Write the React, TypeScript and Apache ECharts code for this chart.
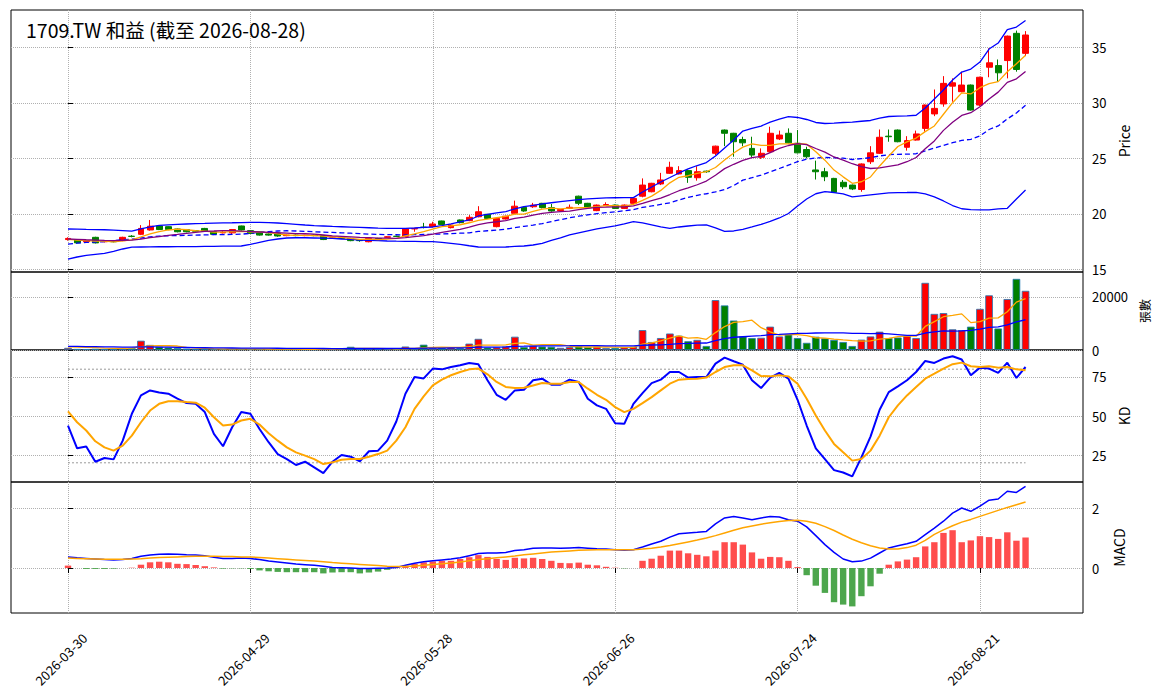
import React, { useEffect, useRef } from "react";
import * as echarts from "echarts";

const DATES = [
  "2026-03-30","2026-03-31","2026-04-01","2026-04-02","2026-04-07","2026-04-08","2026-04-09","2026-04-10","2026-04-13","2026-04-14",
  "2026-04-15","2026-04-16","2026-04-17","2026-04-20","2026-04-21","2026-04-22","2026-04-23","2026-04-24","2026-04-27","2026-04-28",
  "2026-04-29","2026-04-30","2026-05-04","2026-05-05","2026-05-06","2026-05-07","2026-05-08","2026-05-11","2026-05-12","2026-05-13",
  "2026-05-14","2026-05-15","2026-05-18","2026-05-19","2026-05-20","2026-05-21","2026-05-22","2026-05-25","2026-05-26","2026-05-27",
  "2026-05-28","2026-05-29","2026-06-01","2026-06-02","2026-06-03","2026-06-04","2026-06-05","2026-06-08","2026-06-09","2026-06-10",
  "2026-06-11","2026-06-12","2026-06-15","2026-06-16","2026-06-17","2026-06-18","2026-06-22","2026-06-23","2026-06-24","2026-06-25",
  "2026-06-26","2026-06-29","2026-06-30","2026-07-01","2026-07-02","2026-07-03","2026-07-06","2026-07-07","2026-07-08","2026-07-09",
  "2026-07-10","2026-07-13","2026-07-14","2026-07-15","2026-07-16","2026-07-17","2026-07-20","2026-07-21","2026-07-22","2026-07-23",
  "2026-07-24","2026-07-27","2026-07-28","2026-07-29","2026-07-30","2026-07-31","2026-08-03","2026-08-04","2026-08-05","2026-08-06",
  "2026-08-07","2026-08-10","2026-08-11","2026-08-12","2026-08-13","2026-08-14","2026-08-17","2026-08-18","2026-08-19","2026-08-20",
  "2026-08-21","2026-08-24","2026-08-25","2026-08-26","2026-08-27","2026-08-28",
];

const OPEN = [
  17.7,17.66,17.5,17.9,17.5,17.55,17.6,18.0,18.17,18.56,
  18.92,18.86,18.65,18.6,18.5,18.7,18.4,18.3,18.3,18.92,
  18.5,18.4,18.2,18.26,18.05,18.1,18.05,18.1,18.05,17.8,
  17.85,17.8,17.62,17.5,17.8,17.9,18.0,18.0,18.65,18.82,
  18.86,19.37,18.77,19.46,19.4,19.75,19.97,18.86,19.55,20.06,
  20.6,20.65,20.96,20.57,20.3,20.5,21.6,20.96,20.3,20.75,
  20.8,20.5,20.96,21.6,22.0,22.7,23.66,23.6,23.9,23.26,
  23.85,25.46,27.55,27.26,26.7,25.9,25.1,25.6,26.75,27.26,
  26.36,25.8,23.96,23.8,23.2,22.85,22.6,22.2,24.7,25.46,
  27.0,27.55,26.0,26.65,27.7,29.0,29.9,31.5,31.0,31.6,
  29.8,33.2,33.35,33.8,36.25,34.45,
];
const CLOSE = [
  17.8,17.4,17.6,17.4,17.55,17.5,17.9,17.98,18.7,18.9,
  18.6,18.6,18.4,18.4,18.45,18.47,18.17,18.35,18.6,18.56,
  18.25,18.1,18.1,18.02,18.1,18.05,18.08,18.05,17.7,17.85,
  17.8,17.6,17.6,17.8,17.7,17.95,17.98,18.65,18.7,18.78,
  19.1,19.05,19.0,19.22,19.7,20.2,19.6,19.6,19.8,20.7,
  20.27,20.8,20.57,20.27,20.4,20.6,20.96,20.57,20.8,20.85,
  20.5,20.8,21.4,22.6,22.76,23.06,24.2,23.9,23.3,23.8,
  23.8,26.1,27.26,26.5,26.4,25.3,25.46,27.26,27.1,26.4,
  25.5,25.15,23.8,23.35,21.95,22.45,22.25,24.5,25.5,26.9,
  26.95,26.5,26.6,27.2,29.8,29.5,31.75,31.8,31.6,29.35,
  32.3,33.6,32.7,36.0,33.0,36.1,
];
const LOW = [
  17.6,17.35,17.45,17.35,17.45,17.45,17.55,17.9,18.1,18.5,
  18.55,18.55,18.35,18.35,18.4,18.4,18.1,18.25,18.2,18.5,
  18.2,18.05,18.05,17.95,18.0,18.0,18.0,18.0,17.65,17.75,
  17.75,17.55,17.5,17.45,17.65,17.85,17.95,17.95,18.4,18.7,
  18.8,19.0,18.7,19.15,19.35,19.7,19.55,18.8,19.5,20.0,
  20.2,20.55,20.5,20.2,20.25,20.45,20.8,20.5,20.25,20.7,
  20.45,20.45,20.9,21.5,21.95,22.6,23.6,23.55,22.8,23.0,
  23.7,25.3,26.1,25.15,26.1,25.1,24.95,25.5,26.65,26.35,
  25.45,25.0,23.1,22.95,21.9,22.25,22.15,22.0,24.5,25.4,
  26.5,26.45,25.7,26.6,27.4,28.8,29.65,30.1,30.95,29.3,
  29.7,32.3,31.9,32.2,32.8,34.2,
];
const HIGH = [
  17.9,17.7,17.75,17.95,17.6,17.6,17.95,18.1,19.0,19.46,
  18.95,18.9,18.7,18.65,18.55,18.75,18.45,18.45,18.65,18.95,
  18.55,18.45,18.25,18.3,18.15,18.15,18.12,18.15,18.1,17.9,
  17.9,17.85,17.7,17.85,17.85,18.0,18.05,18.7,18.75,19.2,
  19.3,19.4,19.05,19.5,19.9,20.7,20.0,19.65,19.85,21.2,
  20.65,21.0,21.0,20.9,20.45,20.85,21.65,21.0,20.85,21.05,
  20.85,20.85,21.5,23.2,22.8,23.7,24.7,24.3,24.0,24.3,
  23.9,26.15,27.6,27.3,26.95,26.95,25.9,27.85,27.5,27.7,
  27.55,26.05,24.8,24.15,23.25,23.05,22.65,24.55,26.1,27.6,
  27.6,27.6,27.0,27.5,29.85,31.2,32.4,32.2,32.8,31.65,
  32.35,34.9,33.9,36.05,36.5,36.45,
];

const MA5 = [
  17.72,17.65,17.6,17.55,17.55,17.49,17.59,17.67,17.93,18.2,
  18.42,18.56,18.64,18.58,18.49,18.46,18.38,18.37,18.41,18.43,
  18.39,18.37,18.32,18.21,18.11,18.07,18.07,18.06,18.0,17.95,
  17.9,17.8,17.71,17.73,17.7,17.73,17.81,18.02,18.2,18.41,
  18.64,18.86,18.93,19.03,19.21,19.43,19.54,19.66,19.78,19.98,
  19.99,20.23,20.43,20.52,20.46,20.53,20.56,20.56,20.67,20.76,
  20.74,20.7,20.87,21.23,21.61,22.12,22.8,23.3,23.44,23.65,
  23.8,24.18,24.85,25.49,26.01,26.31,26.18,26.18,26.3,26.3,
  26.34,26.28,25.59,24.84,23.95,23.34,22.76,22.9,23.33,24.32,
  25.22,26.07,26.49,26.83,27.41,27.92,28.97,30.01,30.89,30.8,
  31.36,31.73,31.91,32.79,33.52,34.28,
];
const MA10 = [
  17.75,17.72,17.68,17.65,17.62,17.6,17.62,17.64,17.74,17.88,
  17.96,18.08,18.16,18.26,18.35,18.44,18.47,18.51,18.5,18.46,
  18.43,18.38,18.35,18.31,18.27,18.23,18.22,18.19,18.11,18.03,
  17.99,17.94,17.89,17.87,17.83,17.82,17.81,17.87,17.97,18.06,
  18.19,18.34,18.48,18.62,18.81,19.04,19.2,19.3,19.41,19.6,
  19.71,19.89,20.05,20.15,20.22,20.26,20.4,20.5,20.6,20.61,
  20.64,20.63,20.72,20.95,21.19,21.43,21.75,22.09,22.34,22.63,
  22.96,23.49,24.08,24.47,24.83,25.06,25.18,25.52,25.9,26.16,
  26.33,26.23,25.89,25.57,25.13,24.84,24.52,24.25,24.09,24.14,
  24.28,24.42,24.7,25.08,25.87,26.57,27.52,28.25,28.86,29.11,
  29.64,30.35,30.96,31.84,32.16,32.82,
];
const BB_UPPER = [
  18.65,18.63,18.61,18.6,18.58,18.55,18.5,18.45,18.65,18.83,
  18.97,19.02,19.06,19.1,19.13,19.15,19.18,19.2,19.21,19.23,
  19.25,19.24,19.22,19.19,19.13,19.07,19.01,18.96,18.92,18.88,
  18.85,18.82,18.79,18.76,18.73,18.71,18.7,18.7,18.74,18.79,
  18.83,18.95,19.1,19.28,19.46,19.82,19.96,20.09,20.22,20.45,
  20.66,20.78,20.9,21.01,21.12,21.21,21.3,21.36,21.41,21.44,
  21.46,21.47,21.47,21.98,22.43,22.88,23.28,23.69,24.05,24.36,
  24.63,25.22,25.94,26.65,27.46,27.69,27.91,28.27,28.54,28.75,
  28.68,28.5,28.23,28.14,28.18,28.23,28.27,28.34,28.41,28.63,
  28.77,28.81,28.83,28.88,29.53,30.34,31.15,32.05,32.77,33.04,
  33.67,34.84,35.38,36.59,36.82,37.4,
];
const BB_MID = [
  17.29,17.38,17.44,17.48,17.52,17.59,17.68,17.73,17.84,17.94,
  18.01,18.04,18.06,18.08,18.1,18.12,18.14,18.15,18.16,18.18,
  18.26,18.34,18.42,18.47,18.49,18.47,18.44,18.4,18.37,18.34,
  18.3,18.27,18.23,18.19,18.17,18.14,18.13,18.12,18.14,18.16,
  18.17,18.2,18.23,18.27,18.3,18.43,18.49,18.55,18.63,18.77,
  18.89,19.0,19.13,19.32,19.48,19.66,19.8,19.92,20.03,20.12,
  20.19,20.29,20.39,20.59,20.72,20.86,21.0,21.26,21.49,21.68,
  21.82,21.98,22.19,22.56,23.04,23.26,23.49,23.8,24.09,24.4,
  24.7,24.93,25.03,25.08,25.06,25.02,24.9,24.98,25.06,25.22,
  25.33,25.37,25.38,25.42,25.67,25.94,26.16,26.41,26.62,26.72,
  27.02,27.6,27.92,28.55,29.09,29.78,
];
const BB_LOWER = [
  15.93,16.13,16.27,16.36,16.45,16.63,16.85,17.01,17.03,17.04,
  17.05,17.05,17.06,17.06,17.07,17.08,17.09,17.1,17.11,17.12,
  17.26,17.44,17.62,17.75,17.84,17.86,17.86,17.84,17.82,17.8,
  17.75,17.71,17.66,17.62,17.6,17.57,17.55,17.54,17.53,17.52,
  17.51,17.44,17.35,17.26,17.14,17.03,17.01,17.01,17.03,17.08,
  17.12,17.21,17.35,17.62,17.84,18.11,18.29,18.47,18.65,18.79,
  18.92,19.1,19.31,19.19,19.01,18.83,18.71,18.83,18.92,18.99,
  19.01,18.74,18.43,18.47,18.61,18.83,19.06,19.33,19.64,20.04,
  20.72,21.35,21.82,22.01,21.93,21.8,21.53,21.62,21.71,21.8,
  21.89,21.92,21.93,21.95,21.8,21.53,21.17,20.76,20.47,20.4,
  20.36,20.36,20.45,20.51,21.35,22.16,
];

const VOLUME = [
  800,400,350,450,350,300,450,700,3500,1900,
  1200,900,700,500,400,450,350,300,400,500,
  350,400,300,300,250,300,250,250,500,300,
  700,1200,400,500,350,300,400,1300,600,2000,
  700,800,900,700,2400,4200,900,1000,1300,5000,
  1100,1600,1300,1200,800,1100,1500,1100,1300,700,
  800,1000,1200,7500,3000,4500,6200,5400,3300,3800,
  1500,18800,16800,11100,5100,4500,4600,8800,5100,5800,
  4500,2700,5000,4400,3800,3000,1500,3900,5100,6900,
  4500,4700,5400,4500,25300,13600,13900,7800,7500,8800,
  15500,20600,8100,19200,26800,22300,
];
const VOL_MA5 = [
  1200,1100,1000,900,700,600,600,700,1300,1500,
  1600,1600,1500,1000,700,600,500,450,400,400,
  400,400,370,350,320,300,280,270,310,320,
  400,590,620,620,630,540,390,570,610,920,
  1000,1080,1000,1000,1300,1800,1840,1840,1960,2480,
  2660,1800,2060,2040,2040,1420,1180,1140,1160,1140,
  1080,980,1000,2240,2700,3440,4480,5320,4480,4640,
  4040,6560,8840,10400,10660,11260,8420,6820,5620,5760,
  5760,5380,4620,4480,4080,3780,3540,3320,3460,4080,
  4380,5020,5320,5200,8880,10700,12540,13020,13620,10320,
  10700,12040,12100,14440,18040,19400,
];
const VOL_MA20 = [
  1400,1350,1300,1250,1200,1150,1100,1100,1150,1150,
  1100,1050,1000,950,900,850,800,780,760,740,
  720,700,680,660,640,620,600,580,560,550,
  550,560,560,570,570,570,580,620,630,700,
  720,740,770,790,880,1060,1090,1120,1170,1400,
  1430,1480,1520,1560,1580,1620,1670,1640,1650,1560,
  1520,1520,1540,1790,1890,1900,2150,2370,2460,2600,
  2630,3500,4300,4800,5000,5200,5400,5800,5900,6100,
  6250,6300,6400,6450,6480,6450,6300,6250,6200,6300,
  6100,5800,5500,5500,6400,6800,7200,7100,7200,7400,
  7900,8500,8700,9500,10600,11400,
];

const K_LINE = [
  43.9,29.3,30.4,20.7,23.1,22.2,34.2,51.4,63.2,66.4,
  65.1,64.3,61.1,58.3,57.8,52.5,38.5,30.6,42.8,52.5,
  51.4,41.7,33.2,25.6,22.4,18.6,20.7,17.1,13.4,20.7,
  25.0,23.9,20.9,27.4,27.8,34.2,46.5,64.3,75.0,74.1,
  80.4,79.9,81.4,82.5,84.0,83.2,72.9,63.6,60.4,66.4,
  66.8,72.9,73.9,70.1,70.1,73.3,71.8,61.1,56.8,54.6,
  45.4,45.0,57.8,64.7,71.1,73.3,78.2,78.2,74.6,75.0,
  75.0,83.6,87.4,85.1,82.9,72.9,67.9,74.6,77.6,73.9,
  60.4,43.9,29.3,22.4,15.3,13.8,11.3,23.5,36.8,54.0,
  65.3,69.0,72.9,78.2,85.3,84.0,86.8,88.3,86.2,76.1,
  81.0,80.4,77.6,84.2,74.4,81.4,
];
const D_LINE = [
  52.9,46.0,40.7,33.8,29.9,27.8,31.0,37.4,46.0,53.5,
  57.8,59.5,59.5,58.9,58.5,55.3,49.2,43.9,44.5,47.1,
  48.2,44.5,39.0,34.2,29.9,26.7,24.6,22.4,19.2,20.3,
  22.0,22.4,22.4,23.9,25.6,27.8,34.2,42.8,54.6,62.6,
  69.6,73.3,76.1,78.2,79.9,80.4,76.7,71.8,68.6,67.9,
  68.1,69.6,71.1,70.7,70.7,71.8,71.8,67.5,63.6,60.4,
  55.7,52.5,54.6,58.3,62.1,66.4,70.7,73.3,73.7,73.9,
  74.6,78.2,81.4,82.5,82.5,79.3,75.6,75.4,76.1,75.4,
  70.7,61.1,50.3,40.7,32.1,26.7,21.4,22.4,27.8,37.4,
  49.2,56.8,63.2,68.6,73.9,77.1,80.4,83.2,84.2,81.9,
  81.4,81.9,81.0,81.4,79.9,79.3,
];
const KD_LEVELS = [80, 20];

const DIF = [
  0.37,0.34,0.32,0.3,0.28,0.27,0.28,0.32,0.39,0.43,
  0.46,0.47,0.46,0.44,0.43,0.41,0.36,0.32,0.32,0.33,
  0.32,0.28,0.23,0.2,0.17,0.13,0.11,0.09,0.06,0.02,
  0.01,0.0,-0.02,-0.02,-0.01,0.0,0.02,0.09,0.16,0.21,
  0.24,0.27,0.3,0.34,0.41,0.48,0.5,0.5,0.52,0.58,
  0.61,0.66,0.67,0.67,0.66,0.67,0.68,0.66,0.64,0.63,
  0.61,0.59,0.61,0.7,0.8,0.89,1.03,1.14,1.17,1.19,
  1.22,1.47,1.67,1.72,1.67,1.61,1.67,1.72,1.7,1.61,
  1.56,1.37,1.08,0.78,0.52,0.3,0.21,0.23,0.33,0.5,
  0.67,0.74,0.81,0.89,1.11,1.33,1.56,1.83,2.0,1.89,
  2.06,2.26,2.3,2.56,2.52,2.72,
];
const DEA = [
  0.33,0.32,0.31,0.3,0.29,0.29,0.29,0.3,0.31,0.33,
  0.35,0.36,0.37,0.38,0.39,0.39,0.39,0.38,0.38,0.37,
  0.37,0.35,0.33,0.31,0.29,0.27,0.25,0.23,0.21,0.18,
  0.16,0.14,0.12,0.1,0.08,0.06,0.05,0.05,0.07,0.09,
  0.12,0.14,0.17,0.2,0.24,0.28,0.31,0.34,0.37,0.4,
  0.44,0.47,0.5,0.53,0.55,0.57,0.59,0.6,0.61,0.61,
  0.61,0.61,0.61,0.63,0.66,0.7,0.75,0.81,0.87,0.93,
  1.0,1.08,1.17,1.26,1.34,1.4,1.46,1.51,1.55,1.58,
  1.59,1.56,1.49,1.38,1.25,1.1,0.96,0.84,0.74,0.67,
  0.63,0.63,0.68,0.76,0.92,1.12,1.27,1.41,1.53,1.62,
  1.72,1.82,1.92,2.02,2.11,2.2,
];
const HIST = [
  0.08,0.0,-0.03,-0.03,-0.03,-0.02,0.0,0.01,0.11,0.19,
  0.21,0.19,0.14,0.13,0.1,0.06,0.02,-0.02,-0.01,-0.01,
  -0.03,-0.08,-0.11,-0.13,-0.14,-0.14,-0.14,-0.14,-0.18,-0.15,
  -0.14,-0.14,-0.18,-0.15,-0.12,-0.06,0.03,0.08,0.14,0.19,
  0.22,0.24,0.24,0.3,0.36,0.43,0.37,0.3,0.27,0.34,
  0.32,0.34,0.3,0.24,0.17,0.16,0.18,0.11,0.09,0.04,
  0.01,-0.01,0.0,0.24,0.31,0.41,0.58,0.58,0.49,0.44,
  0.39,0.58,0.86,0.86,0.78,0.52,0.31,0.37,0.36,0.24,
  0.03,-0.24,-0.59,-0.83,-1.14,-1.22,-1.28,-0.94,-0.61,-0.19,
  0.11,0.22,0.28,0.36,0.72,0.86,1.17,1.26,0.86,0.92,
  1.06,1.03,0.97,1.19,0.91,1.02,
];

const X_TICKS = [0, 20, 40, 60, 80, 100];
const PRICE_TICKS = [15, 20, 25, 30, 35];
const VOL_TICKS = [0, 20000];
const KD_TICKS = [25, 50, 75];
const MACD_TICKS = [0, 2];

const TITLE = "1709.TW 和益 (截至 2026-08-28)";
const FONT = "'Noto Sans CJK TC', 'DejaVu Sans', sans-serif";

const X_MIN = -6.25;
const X_MAX = 111.3;

const pts = (arr: number[]) => arr.map((v, i) => [i, v]);

const gridLine = { show: true, lineStyle: { color: "#b0b0b0", type: "dotted", width: 1 } };

function xAxis(gridIndex: number, showLabels: boolean) {
  return {
    type: "value",
    gridIndex,
    min: X_MIN,
    max: X_MAX,
    axisLine: { show: false },
    axisTick: { show: showLabels, customValues: X_TICKS, length: 5, lineStyle: { color: "#000" } },
    axisLabel: {
      show: showLabels,
      customValues: X_TICKS,
      rotate: 45,
      align: "center",
      verticalAlign: "middle",
      padding: [0, 20, 0, 0],
      color: "#000",
      fontSize: 13,
      margin: 39,
      fontFamily: FONT,
      formatter: (v: number) => DATES[Math.round(v)] ?? "",
    },
    splitLine: gridLine,
  };
}

function yAxis(gridIndex: number, min: number, max: number, ticks: number[], name: string, nameGap: number, nameSize: number) {
  return {
    type: "value",
    gridIndex,
    position: "right",
    min,
    max,
    axisLine: { show: false },
    axisTick: { show: true, customValues: ticks, length: 5, lineStyle: { color: "#000" } },
    axisLabel: {
      customValues: ticks,
      color: "#000",
      fontSize: 13,
      margin: 9,
      fontFamily: FONT,
      formatter: (v: number) => String(v),
    },
    splitLine: gridLine,
    name,
    nameLocation: "middle",
    nameRotate: 90,
    nameGap,
    nameTextStyle: { color: "#000", fontSize: nameSize, fontFamily: FONT },
  };
}

function line(data: number[], color: string, width: number, xi: number, dashed = false, z = 3) {
  return {
    type: "line",
    xAxisIndex: xi,
    yAxisIndex: xi,
    data: pts(data),
    showSymbol: false,
    symbol: "none",
    z,
    lineStyle: { color, width, type: dashed ? [5, 3] : "solid" },
    silent: true,
  };
}

export default function App() {
  const ref = useRef<HTMLDivElement>(null);
  useEffect(() => {
    if (!ref.current) return;
    const chart = echarts.init(ref.current, undefined, { renderer: "svg" });
    const gridBase = { left: 11, right: 81, show: true, borderColor: "#000", borderWidth: 1, backgroundColor: "transparent" };
    const option: any = {
      animation: false,
      textStyle: { fontFamily: FONT },
      title: {
        text: TITLE,
        left: 21,
        top: 15,
        textStyle: { fontSize: 19.5, fontWeight: "normal", color: "#000", fontFamily: FONT },
      },
      grid: [
        { ...gridBase, top: 10, height: 262 },
        { ...gridBase, top: 272, height: 78 },
        { ...gridBase, top: 350, height: 132 },
        { ...gridBase, top: 482, height: 131 },
      ],
      xAxis: [xAxis(0, false), xAxis(1, false), xAxis(2, false), xAxis(3, true)],
      yAxis: [
        yAxis(0, 14.78, 38.35, PRICE_TICKS, "Price", 29, 14),
        yAxis(1, 0, 29400, VOL_TICKS, "張數", 49, 12),
        yAxis(2, 7.7, 92.3, KD_TICKS, "KD", 29, 14),
        yAxis(3, -1.5, 2.867, MACD_TICKS, "MACD", 29, 14),
      ],
      series: [
        {
          type: "candlestick",
          xAxisIndex: 0,
          yAxisIndex: 0,
          data: OPEN.map((o, i) => [i, o, CLOSE[i], LOW[i], HIGH[i]]),
          encode: { x: 0, y: [1, 2, 3, 4] },
          barWidth: 6.4,
          z: 2,
          itemStyle: {
            color: "#ff0000",
            color0: "#008000",
            borderColor: "#ff0000",
            borderColor0: "#008000",
            borderWidth: 1,
          },
        },
        line(BB_UPPER, "#0000ff", 1.3, 0),
        line(BB_LOWER, "#0000ff", 1.3, 0),
        line(BB_MID, "#0000ff", 1.3, 0, true),
        line(MA5, "#ffa500", 1.3, 0),
        line(MA10, "#800080", 1.3, 0),
        {
          type: "bar",
          xAxisIndex: 1,
          yAxisIndex: 1,
          data: pts(VOLUME),
          barWidth: 7.6,
          z: 2,
          itemStyle: {
            borderColor: "#1f77b4",
            borderWidth: 0.8,
            color: (p: any) => (CLOSE[p.dataIndex] >= OPEN[p.dataIndex] ? "#ff0000" : "#008000"),
          },
        },
        line(VOL_MA5, "#ffa500", 1.3, 1),
        line(VOL_MA20, "#0000ff", 1.3, 1),
        ...KD_LEVELS.map((lv) => ({
          type: "line",
          xAxisIndex: 2,
          yAxisIndex: 2,
          data: [[0, lv], [DATES.length - 1, lv]],
          showSymbol: false,
          symbol: "none",
          z: 2,
          silent: true,
          lineStyle: { color: "#999999", width: 1, type: [2, 2] },
        })),
        line(K_LINE, "#0000ff", 2, 2),
        line(D_LINE, "#ffa500", 2, 2),
        {
          type: "bar",
          xAxisIndex: 3,
          yAxisIndex: 3,
          data: pts(HIST),
          barWidth: 6.4,
          z: 2,
          itemStyle: {
            color: (p: any) => (HIST[p.dataIndex] >= 0 ? "#ff4d4d" : "#4da64d"),
          },
        },
        line(DIF, "#0000ff", 1.5, 3),
        line(DEA, "#ffa500", 1.5, 3),
      ],
    };
    chart.setOption(option);
    return () => chart.dispose();
  }, []);
  return (
    <div
      ref={ref}
      style={{ position: "fixed", left: 0, top: 0, width: 1164, height: 698, background: "#fff" }}
    />
  );
}
